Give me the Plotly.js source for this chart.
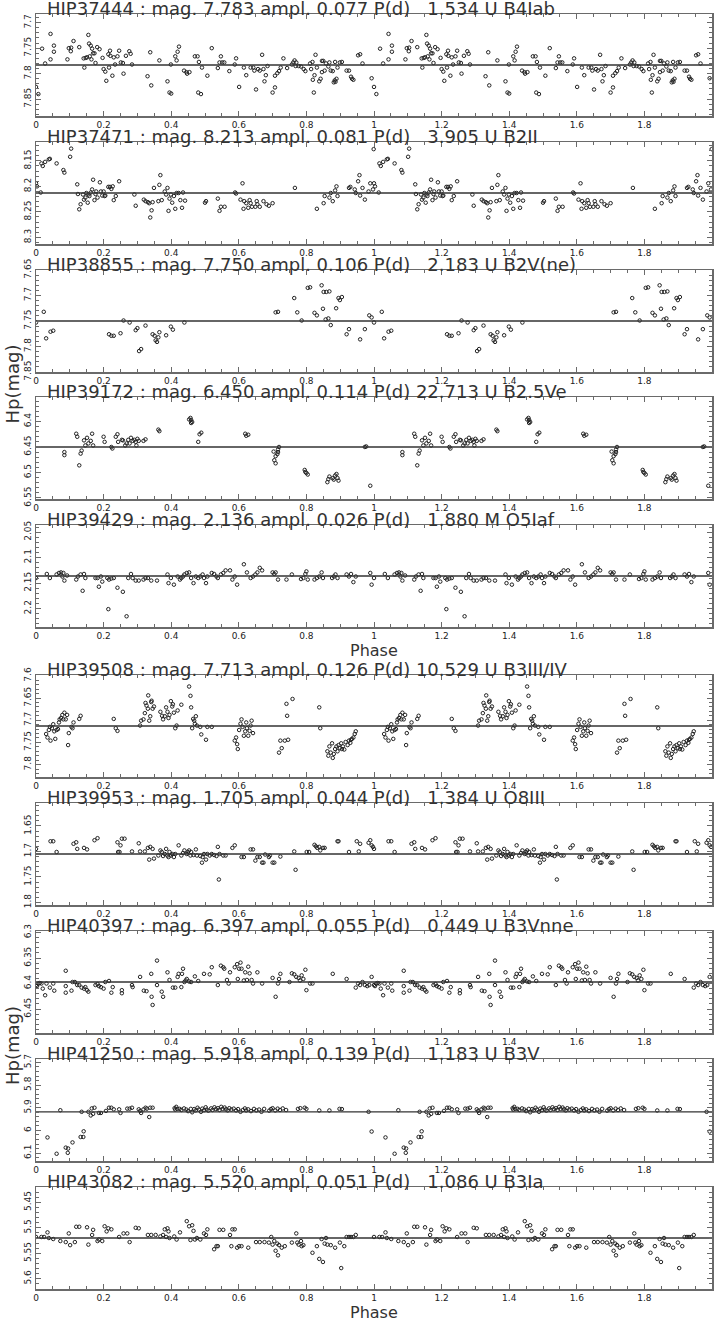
<!DOCTYPE html>
<html>
<head>
<meta charset="utf-8">
<script src="https://cdn.plot.ly/plotly-3.0.1.min.js"></script>
<style>
  body { margin: 0; background: #fff; }
</style>
</head>
<body>
<div id="chart" style="width:714px;height:1323px"></div>
<script>
// Hipparcos light curves folded on the period, one cycle read per star (drawn twice)

const NBSP3 = '\u00A0\u00A0\u00A0';
const starTitles = [
  'HIP37444 : mag. 7.783 ampl. 0.077 P(d)' + NBSP3 + '1.534 U B4Iab',
  'HIP37471 : mag. 8.213 ampl. 0.081 P(d)' + NBSP3 + '3.905 U B2II',
  'HIP38855 : mag. 7.750 ampl. 0.106 P(d)' + NBSP3 + '2.183 U B2V(ne)',
  'HIP39172 : mag. 6.450 ampl. 0.114 P(d) 22.713 U B2.5Ve',
  'HIP39429 : mag. 2.136 ampl. 0.026 P(d)' + NBSP3 + '1.880 M O5Iaf',
  'HIP39508 : mag. 7.713 ampl. 0.126 P(d) 10.529 U B3III/IV',
  'HIP39953 : mag. 1.705 ampl. 0.044 P(d)' + NBSP3 + '1.384 U O8III',
  'HIP40397 : mag. 6.397 ampl. 0.055 P(d)' + NBSP3 + '0.449 U B3Vnne',
  'HIP41250 : mag. 5.918 ampl. 0.139 P(d)' + NBSP3 + '1.183 U B3V',
  'HIP43082 : mag. 5.520 ampl. 0.051 P(d)' + NBSP3 + '1.086 U B3Ia'
];
const meanMags = [7.783, 8.213, 7.750, 6.450, 2.136, 7.713, 1.705, 6.397, 5.918, 5.520];
const magRanges = [
  [7.883, 7.683], [8.313, 8.113], [7.850, 7.650], [6.552, 6.352], [2.236, 2.036],
  [7.828, 7.598], [1.805, 1.605], [6.497, 6.297], [6.135, 5.685], [5.620, 5.420]
];
const magTickSteps = [0.05, 0.05, 0.05, 0.05, 0.05, 0.05, 0.05, 0.05, 0.1, 0.05];
const phaseTicks = [0, 0.2, 0.4, 0.6, 0.8, 1, 1.2, 1.4, 1.6, 1.8];
const phaseTickText = ['0', '0.2', '0.4', '0.6', '0.8', '1', '1.2', '1.4', '1.6', '1.8'];

// [phase, Hp mag] pairs
const hip37444 = [
  [0.000,7.826],[0.007,7.840],[0.018,7.751],[0.027,7.780],[0.043,7.722],[0.043,7.772],[0.053,7.745],[0.053,7.757],
  [0.093,7.772],[0.097,7.750],[0.104,7.749],[0.103,7.756],[0.111,7.736],[0.128,7.748],[0.141,7.770],[0.143,7.788],
  [0.147,7.769],[0.151,7.768],[0.155,7.724],[0.157,7.741],[0.159,7.766],[0.162,7.745],[0.164,7.772],[0.166,7.751],
  [0.169,7.760],[0.173,7.760],[0.176,7.779],[0.181,7.748],[0.188,7.752],[0.197,7.769],[0.200,7.791],[0.205,7.796],
  [0.208,7.814],[0.214,7.762],[0.216,7.788],[0.219,7.755],[0.220,7.765],[0.226,7.804],[0.230,7.768],[0.234,7.782],
  [0.241,7.766],[0.246,7.755],[0.251,7.778],[0.257,7.779],[0.259,7.800],[0.266,7.765],[0.276,7.756],[0.280,7.761],
  [0.284,7.782],[0.330,7.805],[0.338,7.758],[0.341,7.823],[0.365,7.774],[0.389,7.815],[0.395,7.837],[0.400,7.839],
  [0.399,7.782],[0.412,7.766],[0.416,7.774],[0.419,7.757],[0.423,7.747],[0.438,7.794],[0.445,7.797],[0.447,7.800],
  [0.454,7.797],[0.470,7.766],[0.478,7.766],[0.482,7.777],[0.480,7.837],[0.488,7.840],[0.491,7.788],[0.507,7.804],
  [0.520,7.750],[0.538,7.789],[0.543,7.778],[0.547,7.766],[0.551,7.778],[0.557,7.778],[0.572,7.795],[0.588,7.782],
  [0.592,7.770],[0.601,7.826],[0.615,7.788],[0.622,7.803],[0.635,7.788],[0.643,7.788],[0.646,7.794],[0.651,7.831],
  [0.657,7.791],[0.662,7.794],[0.669,7.763],[0.673,7.791],[0.676,7.815],[0.680,7.803],[0.685,7.785],[0.700,7.837],
  [0.707,7.827],[0.707,7.804],[0.714,7.799],[0.719,7.795],[0.724,7.788],[0.732,7.770],[0.743,7.789],[0.757,7.782],
  [0.761,7.778],[0.765,7.774],[0.768,7.785],[0.770,7.778],[0.777,7.785],[0.784,7.786],[0.792,7.791],[0.797,7.795],
  [0.811,7.780],[0.814,7.791],[0.818,7.777],[0.819,7.812],[0.822,7.837],[0.824,7.803],[0.827,7.763],[0.831,7.788],
  [0.838,7.815],[0.842,7.810],[0.846,7.797],[0.846,7.775],[0.850,7.775],[0.854,7.794],[0.858,7.780],[0.865,7.786],
  [0.868,7.778],[0.872,7.794],[0.878,7.795],[0.881,7.817],[0.884,7.813],[0.886,7.816],[0.889,7.810],[0.885,7.777],
  [0.892,7.788],[0.899,7.778],[0.905,7.777],[0.919,7.794],[0.926,7.794],[0.932,7.806],[0.935,7.810],[0.939,7.812],
  [0.953,7.764],[0.959,7.762],[0.966,7.780],[0.993,7.809]
];
const hip37471 = [
  [0.000,8.194],[0.003,8.200],[0.014,8.212],[0.016,8.155],[0.020,8.160],[0.027,8.152],[0.038,8.147],[0.041,8.146],
  [0.061,8.155],[0.081,8.168],[0.084,8.173],[0.101,8.142],[0.104,8.126],[0.122,8.196],[0.124,8.215],[0.128,8.245],
  [0.132,8.235],[0.139,8.216],[0.142,8.226],[0.146,8.222],[0.149,8.213],[0.153,8.232],[0.155,8.216],[0.158,8.219],
  [0.162,8.212],[0.166,8.206],[0.169,8.187],[0.173,8.227],[0.176,8.215],[0.178,8.210],[0.182,8.222],[0.189,8.192],
  [0.192,8.210],[0.196,8.218],[0.200,8.210],[0.203,8.219],[0.205,8.218],[0.214,8.201],[0.219,8.201],[0.223,8.205],
  [0.227,8.200],[0.230,8.227],[0.236,8.219],[0.246,8.190],[0.291,8.216],[0.295,8.238],[0.319,8.226],[0.324,8.229],
  [0.331,8.231],[0.335,8.233],[0.338,8.261],[0.342,8.247],[0.345,8.231],[0.349,8.203],[0.362,8.229],[0.365,8.197],
  [0.368,8.178],[0.372,8.227],[0.381,8.210],[0.385,8.216],[0.389,8.203],[0.392,8.248],[0.395,8.224],[0.399,8.216],
  [0.403,8.232],[0.408,8.219],[0.412,8.244],[0.416,8.213],[0.422,8.213],[0.427,8.227],[0.432,8.242],[0.435,8.212],
  [0.441,8.228],[0.500,8.232],[0.503,8.229],[0.538,8.224],[0.543,8.248],[0.547,8.240],[0.558,8.240],[0.589,8.212],
  [0.592,8.214],[0.605,8.226],[0.611,8.194],[0.614,8.244],[0.616,8.229],[0.622,8.233],[0.628,8.242],[0.632,8.227],
  [0.635,8.233],[0.639,8.240],[0.649,8.240],[0.653,8.229],[0.655,8.235],[0.662,8.240],[0.673,8.229],[0.682,8.235],
  [0.689,8.238],[0.700,8.233],[0.766,8.203],[0.831,8.244],[0.851,8.233],[0.854,8.219],[0.868,8.222],[0.872,8.213],
  [0.878,8.229],[0.885,8.208],[0.889,8.200],[0.892,8.219],[0.926,8.203],[0.930,8.201],[0.943,8.206],[0.946,8.213],
  [0.953,8.190],[0.957,8.178],[0.959,8.218],[0.966,8.203],[0.973,8.226],[0.984,8.210],[0.989,8.194],[0.997,8.206],
  [0.999,8.127]
];
const hip38855 = [
  [0.000,7.753],[0.023,7.732],[0.030,7.784],[0.043,7.771],[0.051,7.769],[0.216,7.776],[0.223,7.779],[0.230,7.779],
  [0.250,7.774],[0.259,7.749],[0.277,7.753],[0.295,7.768],[0.300,7.764],[0.305,7.809],[0.311,7.805],[0.324,7.759],
  [0.345,7.776],[0.351,7.779],[0.354,7.788],[0.358,7.791],[0.362,7.782],[0.365,7.772],[0.385,7.778],[0.399,7.761],
  [0.405,7.767],[0.439,7.753],[0.709,7.733],[0.716,7.732],[0.764,7.705],[0.773,7.733],[0.786,7.749],[0.804,7.685],
  [0.811,7.684],[0.824,7.734],[0.831,7.739],[0.845,7.680],[0.849,7.726],[0.851,7.693],[0.857,7.747],[0.859,7.693],
  [0.865,7.745],[0.868,7.692],[0.872,7.758],[0.888,7.725],[0.895,7.705],[0.899,7.709],[0.905,7.703],[0.919,7.776],
  [0.926,7.766],[0.959,7.786],[0.973,7.766],[0.986,7.739],[0.993,7.743]
];
const hip39172 = [
  [0.084,6.460],[0.084,6.466],[0.119,6.424],[0.122,6.430],[0.128,6.486],[0.132,6.463],[0.135,6.457],[0.142,6.437],
  [0.146,6.447],[0.151,6.432],[0.155,6.443],[0.162,6.438],[0.166,6.424],[0.169,6.447],[0.200,6.430],[0.203,6.440],
  [0.223,6.450],[0.226,6.453],[0.236,6.430],[0.241,6.425],[0.243,6.440],[0.254,6.436],[0.257,6.437],[0.264,6.447],
  [0.268,6.443],[0.273,6.436],[0.277,6.443],[0.281,6.432],[0.286,6.438],[0.291,6.436],[0.295,6.440],[0.297,6.447],
  [0.300,6.434],[0.304,6.438],[0.318,6.438],[0.324,6.435],[0.362,6.416],[0.365,6.419],[0.453,6.396],[0.457,6.393],
  [0.459,6.397],[0.462,6.401],[0.459,6.403],[0.480,6.440],[0.484,6.425],[0.489,6.422],[0.619,6.424],[0.622,6.428],
  [0.628,6.426],[0.703,6.459],[0.705,6.476],[0.709,6.468],[0.714,6.464],[0.716,6.460],[0.716,6.455],[0.719,6.450],
  [0.709,6.482],[0.795,6.495],[0.797,6.499],[0.800,6.501],[0.804,6.504],[0.862,6.519],[0.865,6.513],[0.868,6.508],
  [0.878,6.511],[0.881,6.514],[0.885,6.506],[0.889,6.503],[0.892,6.511],[0.895,6.516],[0.973,6.450],[0.977,6.449],
  [0.989,6.526]
];
const hip39429 = [
  [0.000,2.140],[0.032,2.132],[0.041,2.140],[0.061,2.133],[0.068,2.130],[0.074,2.129],[0.078,2.137],[0.081,2.130],
  [0.084,2.145],[0.092,2.135],[0.119,2.143],[0.124,2.137],[0.132,2.133],[0.138,2.165],[0.142,2.132],[0.146,2.140],
  [0.176,2.140],[0.182,2.140],[0.186,2.157],[0.192,2.137],[0.196,2.147],[0.211,2.140],[0.214,2.201],[0.216,2.143],
  [0.223,2.141],[0.230,2.140],[0.241,2.159],[0.257,2.167],[0.268,2.215],[0.273,2.140],[0.281,2.132],[0.286,2.140],
  [0.295,2.145],[0.304,2.145],[0.318,2.143],[0.324,2.140],[0.331,2.140],[0.341,2.145],[0.358,2.145],[0.389,2.133],
  [0.392,2.150],[0.399,2.140],[0.408,2.153],[0.419,2.137],[0.426,2.143],[0.430,2.140],[0.435,2.137],[0.439,2.133],
  [0.446,2.130],[0.453,2.129],[0.459,2.140],[0.466,2.150],[0.473,2.137],[0.480,2.140],[0.486,2.137],[0.493,2.133],
  [0.497,2.140],[0.503,2.150],[0.507,2.137],[0.520,2.130],[0.527,2.132],[0.534,2.137],[0.538,2.140],[0.547,2.133],
  [0.554,2.130],[0.561,2.125],[0.574,2.125],[0.581,2.143],[0.588,2.137],[0.595,2.153],[0.615,2.113],[0.624,2.129],
  [0.635,2.140],[0.642,2.137],[0.649,2.133],[0.655,2.129],[0.662,2.120],[0.669,2.125],[0.700,2.129],[0.705,2.132],
  [0.709,2.129],[0.716,2.143],[0.741,2.143],[0.757,2.133],[0.784,2.142],[0.791,2.140],[0.797,2.132],[0.800,2.127],
  [0.804,2.143],[0.824,2.143],[0.831,2.140],[0.838,2.137],[0.845,2.129],[0.849,2.140],[0.876,2.140],[0.881,2.137],
  [0.886,2.133],[0.892,2.140],[0.919,2.133],[0.926,2.137],[0.932,2.132],[0.939,2.148],[0.946,2.137],[0.989,2.130],
  [0.993,2.153]
];
const hip39508 = [
  [0.030,7.731],[0.034,7.739],[0.038,7.722],[0.041,7.715],[0.043,7.746],[0.047,7.718],[0.051,7.709],[0.054,7.725],
  [0.057,7.742],[0.061,7.722],[0.065,7.720],[0.068,7.705],[0.070,7.698],[0.074,7.695],[0.078,7.688],[0.081,7.698],
  [0.084,7.683],[0.088,7.698],[0.092,7.688],[0.095,7.756],[0.097,7.729],[0.105,7.715],[0.108,7.718],[0.111,7.705],
  [0.128,7.697],[0.132,7.690],[0.230,7.697],[0.236,7.718],[0.241,7.724],[0.308,7.712],[0.311,7.701],[0.318,7.698],
  [0.322,7.684],[0.324,7.661],[0.327,7.667],[0.331,7.674],[0.332,7.644],[0.335,7.701],[0.338,7.691],[0.341,7.659],
  [0.342,7.656],[0.345,7.674],[0.349,7.669],[0.368,7.681],[0.373,7.690],[0.376,7.698],[0.381,7.691],[0.385,7.671],
  [0.389,7.681],[0.392,7.695],[0.395,7.688],[0.399,7.657],[0.403,7.669],[0.405,7.664],[0.408,7.683],[0.412,7.718],
  [0.416,7.712],[0.419,7.678],[0.430,7.665],[0.453,7.624],[0.457,7.645],[0.459,7.671],[0.462,7.718],[0.465,7.697],
  [0.468,7.701],[0.470,7.708],[0.473,7.691],[0.476,7.712],[0.486,7.715],[0.489,7.732],[0.503,7.744],[0.507,7.715],
  [0.520,7.715],[0.588,7.746],[0.592,7.739],[0.595,7.754],[0.597,7.765],[0.601,7.722],[0.605,7.708],[0.608,7.698],
  [0.611,7.715],[0.615,7.735],[0.619,7.725],[0.622,7.705],[0.624,7.718],[0.628,7.735],[0.632,7.724],[0.635,7.712],
  [0.638,7.701],[0.642,7.729],[0.719,7.773],[0.723,7.746],[0.727,7.763],[0.736,7.746],[0.741,7.663],[0.743,7.690],
  [0.746,7.744],[0.759,7.652],[0.838,7.671],[0.841,7.718],[0.862,7.770],[0.865,7.780],[0.868,7.759],[0.872,7.773],
  [0.876,7.752],[0.878,7.785],[0.881,7.776],[0.885,7.765],[0.889,7.759],[0.892,7.770],[0.895,7.756],[0.899,7.763],
  [0.903,7.752],[0.905,7.765],[0.908,7.759],[0.912,7.766],[0.916,7.749],[0.922,7.756],[0.926,7.746],[0.930,7.751],
  [0.932,7.744],[0.935,7.742],[0.939,7.739],[0.943,7.731],[0.946,7.725]
];
const hip39953 = [
  [0.000,1.695],[0.043,1.680],[0.051,1.680],[0.061,1.701],[0.111,1.685],[0.119,1.682],[0.122,1.695],[0.142,1.693],
  [0.151,1.696],[0.173,1.678],[0.182,1.674],[0.241,1.682],[0.243,1.701],[0.247,1.701],[0.250,1.688],[0.254,1.675],
  [0.262,1.675],[0.284,1.700],[0.304,1.684],[0.308,1.700],[0.322,1.700],[0.331,1.693],[0.335,1.716],[0.338,1.691],
  [0.345,1.695],[0.349,1.714],[0.362,1.708],[0.368,1.698],[0.372,1.701],[0.376,1.709],[0.381,1.705],[0.385,1.695],
  [0.389,1.708],[0.392,1.711],[0.395,1.701],[0.399,1.708],[0.403,1.705],[0.408,1.711],[0.412,1.705],[0.422,1.688],
  [0.430,1.708],[0.435,1.703],[0.439,1.698],[0.446,1.705],[0.449,1.701],[0.453,1.698],[0.457,1.708],[0.459,1.701],
  [0.466,1.707],[0.473,1.696],[0.476,1.708],[0.486,1.709],[0.491,1.722],[0.493,1.711],[0.497,1.705],[0.503,1.716],
  [0.507,1.705],[0.514,1.708],[0.520,1.705],[0.527,1.707],[0.534,1.709],[0.538,1.691],[0.541,1.755],[0.543,1.705],
  [0.554,1.708],[0.561,1.708],[0.581,1.693],[0.588,1.688],[0.608,1.711],[0.615,1.711],[0.635,1.696],[0.642,1.696],
  [0.649,1.718],[0.655,1.711],[0.662,1.711],[0.669,1.722],[0.673,1.722],[0.678,1.706],[0.689,1.711],[0.692,1.708],
  [0.700,1.722],[0.705,1.722],[0.723,1.710],[0.764,1.700],[0.768,1.736],[0.801,1.701],[0.808,1.701],[0.824,1.687],
  [0.828,1.690],[0.832,1.693],[0.838,1.691],[0.841,1.698],[0.849,1.693],[0.854,1.693],[0.892,1.680],[0.895,1.680],
  [0.926,1.701],[0.949,1.680],[0.955,1.700],[0.959,1.685],[0.984,1.683],[0.989,1.678],[0.993,1.688],[0.997,1.691]
];
const hip40397 = [
  [0.000,6.403],[0.003,6.405],[0.007,6.400],[0.011,6.399],[0.016,6.400],[0.020,6.410],[0.027,6.423],[0.031,6.400],
  [0.041,6.408],[0.051,6.400],[0.054,6.414],[0.088,6.418],[0.088,6.405],[0.088,6.375],[0.105,6.414],[0.108,6.397],
  [0.115,6.397],[0.122,6.403],[0.128,6.403],[0.135,6.408],[0.142,6.410],[0.146,6.407],[0.151,6.413],[0.155,6.416],
  [0.176,6.403],[0.182,6.401],[0.186,6.405],[0.192,6.407],[0.200,6.410],[0.205,6.397],[0.216,6.395],[0.223,6.418],
  [0.227,6.407],[0.254,6.419],[0.254,6.413],[0.284,6.403],[0.286,6.407],[0.308,6.387],[0.319,6.414],[0.327,6.415],
  [0.341,6.381],[0.342,6.426],[0.345,6.442],[0.358,6.403],[0.358,6.355],[0.372,6.416],[0.376,6.426],[0.389,6.378],
  [0.395,6.393],[0.405,6.408],[0.412,6.408],[0.419,6.387],[0.422,6.381],[0.430,6.407],[0.432,6.381],[0.435,6.371],
  [0.439,6.397],[0.443,6.394],[0.446,6.391],[0.453,6.396],[0.459,6.397],[0.470,6.386],[0.480,6.395],[0.497,6.381],
  [0.514,6.382],[0.520,6.368],[0.538,6.403],[0.547,6.365],[0.554,6.368],[0.557,6.371],[0.565,6.393],[0.570,6.400],
  [0.574,6.378],[0.588,6.368],[0.595,6.362],[0.597,6.391],[0.601,6.371],[0.605,6.359],[0.608,6.371],[0.615,6.394],
  [0.619,6.378],[0.624,6.393],[0.628,6.367],[0.632,6.380],[0.638,6.393],[0.642,6.400],[0.655,6.378],[0.669,6.400],
  [0.700,6.389],[0.709,6.426],[0.716,6.400],[0.719,6.391],[0.723,6.381],[0.750,6.397],[0.757,6.380],[0.764,6.382],
  [0.770,6.387],[0.777,6.389],[0.781,6.394],[0.786,6.384],[0.791,6.391],[0.797,6.373],[0.800,6.413],[0.811,6.400],
  [0.818,6.400],[0.878,6.381],[0.919,6.391],[0.946,6.408],[0.953,6.400],[0.959,6.403],[0.966,6.397],[0.973,6.403],
  [0.980,6.405],[0.986,6.403],[0.993,6.387]
];
const hip41250 = [
  [0.034,6.031],[0.061,6.103],[0.072,5.911],[0.088,6.076],[0.095,6.080],[0.094,6.099],[0.108,6.053],[0.132,6.029],
  [0.140,6.029],[0.141,6.004],[0.135,5.918],[0.155,5.918],[0.162,5.934],[0.169,5.927],[0.165,5.903],[0.173,5.900],
  [0.186,5.923],[0.192,5.923],[0.207,5.914],[0.216,5.900],[0.223,5.900],[0.230,5.907],[0.246,5.907],[0.250,5.923],
  [0.270,5.904],[0.277,5.904],[0.284,5.900],[0.304,5.907],[0.308,5.914],[0.311,5.923],[0.318,5.907],[0.324,5.900],
  [0.328,5.904],[0.335,5.941],[0.338,5.900],[0.345,5.900],
  [0.410,5.902],[0.412,5.908],[0.415,5.896],[0.418,5.905],[0.425,5.905],[0.430,5.910],[0.438,5.903],[0.445,5.908],
  [0.450,5.915],[0.458,5.905],[0.462,5.920],[0.468,5.906],[0.472,5.912],[0.478,5.900],[0.482,5.908],[0.488,5.918],
  [0.492,5.904],[0.497,5.911],[0.502,5.898],[0.505,5.908],[0.510,5.913],[0.518,5.903],[0.522,5.910],[0.528,5.898],
  [0.532,5.906],[0.538,5.902],[0.543,5.910],[0.548,5.896],[0.552,5.905],[0.558,5.899],[0.562,5.907],[0.567,5.912],
  [0.572,5.902],[0.578,5.908],[0.585,5.904],[0.592,5.912],[0.598,5.906],[0.605,5.918],[0.612,5.910],[0.618,5.903],
  [0.622,5.912],[0.628,5.907],[0.636,5.915],[0.645,5.905],[0.652,5.912],[0.660,5.908],[0.667,5.918],[0.675,5.905],
  [0.690,5.913],[0.695,5.906],[0.700,5.902],[0.708,5.912],[0.715,5.904],[0.722,5.910],[0.730,5.903],[0.740,5.910],
  [0.775,5.905],[0.782,5.902],[0.795,5.900],[0.800,5.905],[0.838,5.912],[0.868,5.912],[0.898,5.905],[0.905,5.906],
  [0.984,5.918],[0.993,6.005]
];
const hip43082 = [
  [0.000,5.518],[0.016,5.518],[0.024,5.518],[0.034,5.509],[0.038,5.520],[0.051,5.522],[0.072,5.526],[0.088,5.528],
  [0.097,5.511],[0.101,5.534],[0.115,5.528],[0.119,5.498],[0.128,5.498],[0.151,5.499],[0.155,5.533],[0.166,5.514],
  [0.169,5.504],[0.182,5.526],[0.186,5.523],[0.196,5.526],[0.203,5.497],[0.209,5.507],[0.214,5.501],[0.223,5.503],
  [0.246,5.518],[0.259,5.511],[0.270,5.511],[0.277,5.528],[0.295,5.500],[0.304,5.501],[0.331,5.514],[0.341,5.514],
  [0.354,5.514],[0.368,5.517],[0.376,5.514],[0.381,5.503],[0.385,5.518],[0.389,5.501],[0.392,5.507],[0.395,5.520],
  [0.409,5.517],[0.416,5.523],[0.426,5.509],[0.446,5.487],[0.453,5.497],[0.457,5.524],[0.462,5.495],[0.466,5.506],
  [0.470,5.523],[0.476,5.520],[0.486,5.523],[0.497,5.511],[0.503,5.514],[0.507,5.503],[0.527,5.542],[0.534,5.536],
  [0.538,5.536],[0.543,5.504],[0.554,5.504],[0.574,5.514],[0.578,5.536],[0.581,5.503],[0.588,5.503],[0.595,5.539],
  [0.601,5.536],[0.608,5.536],[0.628,5.539],[0.651,5.528],[0.662,5.528],[0.676,5.528],[0.689,5.529],[0.696,5.518],
  [0.700,5.533],[0.705,5.526],[0.709,5.545],[0.714,5.531],[0.716,5.554],[0.719,5.534],[0.727,5.539],[0.736,5.536],
  [0.757,5.529],[0.770,5.511],[0.773,5.529],[0.777,5.533],[0.784,5.526],[0.786,5.536],[0.791,5.534],[0.818,5.549],
  [0.831,5.536],[0.838,5.561],[0.845,5.522],[0.849,5.567],[0.854,5.531],[0.858,5.520],[0.862,5.533],[0.872,5.534],
  [0.885,5.539],[0.899,5.529],[0.903,5.579],[0.912,5.536],[0.919,5.518],[0.926,5.518],[0.932,5.518],[0.939,5.518],
  [0.946,5.514]
];
const starCurves = [hip37444, hip37471, hip38855, hip39172, hip39429, hip39508, hip39953, hip40397, hip41250, hip43082];

// page geometry (pixels)
const pageW = 714, pageH = 1323;
const frameLeft = 36, frameRight = 712;
const panelTops = [14, 142, 270, 397, 525, 675, 803, 931, 1059, 1187];
const panelHeight = 102;

const inkColor = '#222';
const frameColor = '#6a6a6a';

/**
 * y domain in paper units for a panel
 */
function panelDomain(i) {
  const top = panelTops[i];
  return [1 - (top + panelHeight) / pageH, 1 - top / pageH];
}

function axisSuffix(i) {
  return i === 0 ? '' : String(i + 1);
}

function buildTraces() {
  const traces = [];
  starCurves.forEach((curve, i) => {
    const phase = curve.map(p => p[0]);
    const mag = curve.map(p => p[1]);
    // the cycle is plotted twice, phase 0-1 and 1-2
    traces.push({
      x: phase.concat(phase.map(p => p + 1)),
      y: mag.concat(mag),
      xaxis: 'x' + axisSuffix(i),
      yaxis: 'y' + axisSuffix(i),
      mode: 'markers',
      type: 'scatter',
      marker: { symbol: 'circle-open', size: 3.5, color: inkColor, line: { width: 1, color: inkColor } },
      hoverinfo: 'skip'
    });
    traces.push({
      x: [0, 2],
      y: [meanMags[i], meanMags[i]],
      xaxis: 'x' + axisSuffix(i),
      yaxis: 'y' + axisSuffix(i),
      mode: 'lines',
      type: 'scatter',
      line: { color: '#333', width: 1.3 },
      hoverinfo: 'skip'
    });
  });
  return traces;
}

function buildLayout() {
  const layout = {
    width: pageW,
    height: pageH,
    margin: { l: frameLeft, r: pageW - frameRight, t: 0, b: 0 },
    paper_bgcolor: '#fff',
    plot_bgcolor: '#fff',
    showlegend: false,
    font: { family: 'DejaVu Sans, sans-serif', color: inkColor },
    annotations: []
  };

  starCurves.forEach((curve, i) => {
    const s = axisSuffix(i);
    layout['xaxis' + s] = {
      domain: [0, 1],
      anchor: 'y' + s,
      range: [0, 2],
      tickmode: 'array',
      tickvals: phaseTicks,
      ticktext: phaseTickText,
      ticks: 'inside',
      ticklen: 5,
      tickwidth: 1,
      tickcolor: frameColor,
      minor: { tickmode: 'linear', tick0: 0, dtick: 0.05, ticks: 'inside', ticklen: 3, tickcolor: frameColor },
      showline: true,
      linecolor: frameColor,
      linewidth: 1.5,
      mirror: 'allticks',
      showgrid: false,
      zeroline: false,
      ticklabelstandoff: 0,
      tickfont: { size: 9, color: inkColor }
    };
    layout['yaxis' + s] = {
      domain: panelDomain(i),
      anchor: 'x' + s,
      range: magRanges[i],
      tickmode: 'linear',
      tick0: 0,
      dtick: magTickSteps[i],
      tickangle: -90,
      ticks: 'inside',
      ticklen: 5,
      tickwidth: 1,
      tickcolor: frameColor,
      minor: { tickmode: 'linear', tick0: 0, dtick: magTickSteps[i] / 5, ticks: 'inside', ticklen: 3, tickcolor: frameColor },
      showline: true,
      linecolor: frameColor,
      linewidth: 1.5,
      mirror: 'allticks',
      showgrid: false,
      zeroline: false,
      tickfont: { size: 9, color: inkColor }
    };
    // star header sitting on the frame
    layout.annotations.push({
      text: starTitles[i],
      xref: 'paper', yref: 'paper',
      x: 10 / (frameRight - frameLeft),
      y: panelDomain(i)[1],
      xanchor: 'left', yanchor: 'bottom',
      yshift: -6,
      borderpad: 0,
      showarrow: false,
      font: { size: 18, color: '#333' }
    });
  });

  // axis words shared by groups of panels
  const bottomOf = i => 1 - (panelTops[i] + panelHeight) / pageH;
  [4, 9].forEach(i => {
    layout.annotations.push({
      text: 'Phase', xref: 'paper', yref: 'paper', x: 0.5, y: bottomOf(i),
      xanchor: 'center', yanchor: 'top', yshift: -13, borderpad: 0, showarrow: false,
      font: { size: 16, color: '#333' }
    });
  });
  [[2, 3], [7, 8]].forEach(pair => {
    const yMid = 1 - ((panelTops[pair[0]] + panelHeight + panelTops[pair[1]]) / 2) / pageH;
    layout.annotations.push({
      text: 'Hp(mag)', xref: 'paper', yref: 'paper', x: -24 / (frameRight - frameLeft), y: yMid,
      xanchor: 'center', yanchor: 'middle', textangle: -90, showarrow: false,
      font: { size: 18, color: '#333' }
    });
  });
  return layout;
}

Plotly.newPlot('chart', buildTraces(), buildLayout(), { staticPlot: true, displayModeBar: false });
</script>
</body>
</html>
